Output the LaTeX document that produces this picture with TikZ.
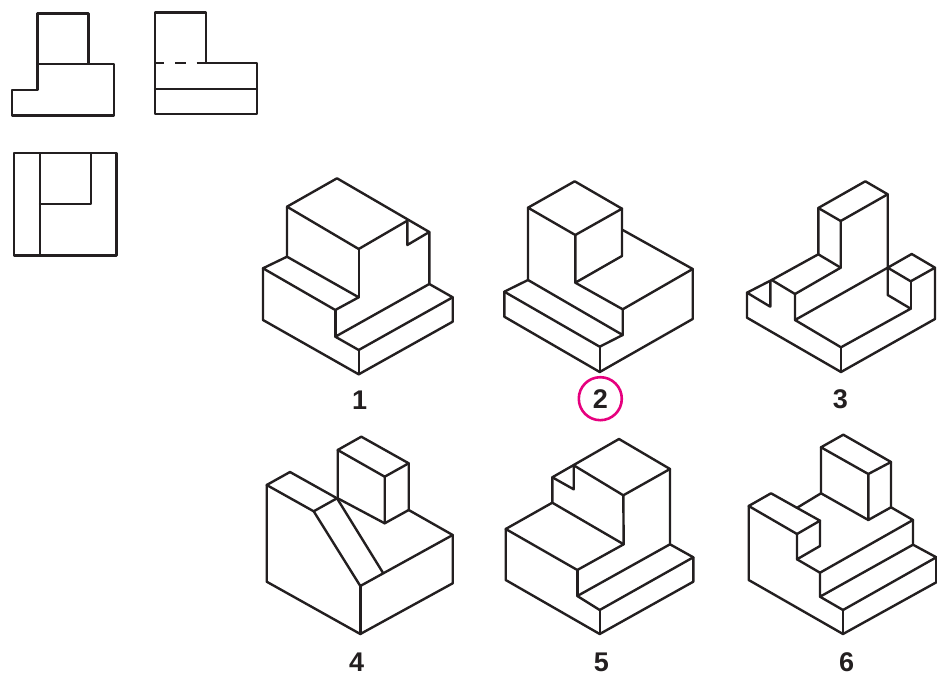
\documentclass[tikz,border=0pt]{standalone}
\usepackage{fontspec}
\setsansfont{Liberation Sans}
\definecolor{inkline}{HTML}{231F20}
\definecolor{ringpink}{HTML}{E6007E}

\begin{document}
\begin{tikzpicture}
	[x=1pt,y=-1pt,
	every node/.style={font=\sffamily\bfseries\fontsize{27}{27}\selectfont,text=inkline,inner sep=0pt},
	solid line/.style={draw=inkline,line width=2.4pt,line join=round,line cap=round},
	ring/.style={circle,draw=ringpink,line width=2.6pt,minimum size=43pt}]
	\useasboundingbox (0,0) rectangle (937,676);
	% flat views
	\draw [solid line] (37.3,13.7) -- (88.3,13.7) -- (88.3,64.3) -- (37.3,64.3) -- cycle;
	\draw [solid line] (88.3,64.3) -- (113.7,64.3) -- (113.7,115.7) -- (12,115.7) -- (12,90) -- (37.3,90) -- (37.3,64.3);
	\draw [solid line] (155,63.3) -- (155,12.7) -- (205.7,12.7) -- (205.7,63.3) -- (257,63.3) -- (257,114.3) -- (155,114.3) -- cycle;
	\draw [solid line] (155,89) -- (257,89);
	\draw [draw=inkline,line width=1.6pt,dash pattern=on 9pt off 11pt on 11pt off 10.7pt on 9pt] (155,63.3) -- (205.7,63.3);
	\draw [solid line] (14,153.3) rectangle (116.3,255.7);
	\draw [solid line] (40,153.3) -- (40,255.7);
	\draw [solid line] (90.7,153.3) -- (90.7,204) -- (40,204);
	% solid 1
	\draw [solid line] (287,206.7) -- (337,178.3) -- (429.3,232) -- (429.3,284) -- (335.3,336.7) -- (358.7,350) -- (452.7,297.3) -- (429.3,284);
	\draw [solid line] (287,206.7) -- (358.7,249) -- (407.3,220.7) -- (407.3,245) -- (429.3,232);
	\draw [solid line] (287,206.7) -- (287,256.7) -- (263,268.3) -- (335.3,310) -- (358.7,297.3) -- (287,256.7);
	\draw [solid line] (358.7,249) -- (358.7,297.3);
	\draw [solid line] (335.3,310) -- (335.3,336.7);
	\draw [solid line] (263,268.3) -- (263,320) -- (358.7,374.3) -- (452.7,321.7) -- (452.7,297.3);
	\draw [solid line] (358.7,350) -- (358.7,374.3);
	\node (one) at (359.7,400) {1};
	% solid 2
	\draw [solid line] (528,207.7) -- (574.7,181.3) -- (622,208.7) -- (575.3,235) -- cycle;
	\draw [solid line] (622,208.7) -- (622,256) -- (575.3,282.7) -- (575.3,235);
	\draw [solid line] (575.3,282.7) -- (622.7,309.3) -- (692.7,269) -- (622.7,230);
	\draw [solid line] (528,207.7) -- (528,280) -- (622.7,335) -- (622.7,309.3);
	\draw [solid line] (528,280) -- (504.3,291.7) -- (599.7,346.7) -- (622.7,335);
	\draw [solid line] (504.3,291.7) -- (504.3,316.7) -- (599.7,372) -- (692.7,319) -- (692.7,269);
	\draw [solid line] (599.7,346.7) -- (599.7,372);
	\node (two) [ring] at (600.3,398.7) {2};
	% solid 3
	\draw [solid line] (818.3,208) -- (865.3,181.3) -- (887.7,194.3) -- (840.7,221) -- cycle;
	\draw [solid line] (818.3,208) -- (818.3,254.3) -- (771.7,280) -- (747,292.7) -- (770.3,306.7) -- (770.3,280.7);
	\draw [solid line] (840.7,221) -- (840.7,267.7) -- (795,294) -- (771.7,280);
	\draw [solid line] (818.3,254.3) -- (840.7,267.7);
	\draw [solid line] (795,294) -- (795,320) -- (887.7,267.7);
	\draw [solid line] (795,320) -- (841,347.3) -- (910.7,308.7) -- (887.7,295) -- (887.7,194.3);
	\draw [solid line] (747,292.7) -- (747,317.7) -- (841,372) -- (935,319) -- (935,267.7) -- (911.7,254) -- (887.7,267.7) -- (910.7,281.3) -- (935,267.7);
	\draw [solid line] (910.7,281.3) -- (910.7,308.7);
	\draw [solid line] (841,347.3) -- (841,372);
	\node (three) at (840.3,399.3) {3};
	% solid 4
	\draw [solid line] (337.7,450) -- (361.3,436.7) -- (408.7,463.3) -- (384.7,476.7) -- cycle;
	\draw [solid line] (408.7,463.3) -- (408.7,510) -- (384.7,523.3) -- (384.7,476.7);
	\draw [solid line] (337.7,450) -- (337.7,498.3) -- (384.7,523.3);
	\draw [solid line] (408.7,510) -- (452.7,535) -- (383.3,573.3) -- (360.3,586) -- (313.7,511.3) -- (266.7,485) -- (290,472) -- (337,498.3) -- (383.3,573.3);
	\draw [solid line] (313.7,511.3) -- (337,498.3);
	\draw [solid line] (266.7,485) -- (266.7,581.7) -- (360.3,634) -- (452.7,583.3) -- (452.7,535);
	\draw [solid line] (360.3,586) -- (360.3,634);
	\node (four) at (356.7,662) {4};
	% solid 5
	\draw [solid line] (552.3,477.3) -- (619,439) -- (670,469) -- (623.3,495.3) -- (573.7,465.3) -- (573.7,489.3) -- (552.3,477.3);
	\draw [solid line] (552.3,477.3) -- (552.3,502.7) -- (505.7,529) -- (577.3,570) -- (623.7,544.3) -- (552.3,502.7);
	\draw [solid line] (623.3,495.3) -- (623.7,544.3);
	\draw [solid line] (670,469) -- (670,544.3) -- (577.3,596) -- (599.7,610) -- (693.3,557.3) -- (670,544.3);
	\draw [solid line] (577.3,570) -- (577.3,596);
	\draw [solid line] (505.7,529) -- (505.7,580) -- (599.7,634) -- (693.3,581.7) -- (693.3,557.3);
	\draw [solid line] (599.7,610) -- (599.7,634);
	\node (five) at (601.3,662) {5};
	% solid 6
	\draw [solid line] (821,447.3) -- (843.3,434.7) -- (891,462) -- (868.3,474) -- cycle;
	\draw [solid line] (891,462) -- (891,507.3) -- (868.3,520) -- (868.3,474);
	\draw [solid line] (821,447.3) -- (821,493.3) -- (868.3,520);
	\draw [solid line] (821,493.3) -- (796.7,508);
	\draw [solid line] (748.7,506) -- (771,493.3) -- (820,520.7) -- (797,534) -- cycle;
	\draw [solid line] (820,520.7) -- (820,546) -- (797,559.3) -- (797,534);
	\draw [solid line] (797,559.3) -- (820,572.7) -- (913,520) -- (891,507.3);
	\draw [solid line] (913,520) -- (913,544.7) -- (820,596.7) -- (820,572.7);
	\draw [solid line] (820,596.7) -- (843,610) -- (936.3,557.3) -- (913,544.7);
	\draw [solid line] (748.7,506) -- (748.7,580) -- (843,634) -- (936.3,582.3) -- (936.3,557.3);
	\draw [solid line] (843,610) -- (843,634);
	\node (six) at (846.7,662) {6};
\end{tikzpicture}
\end{document}
